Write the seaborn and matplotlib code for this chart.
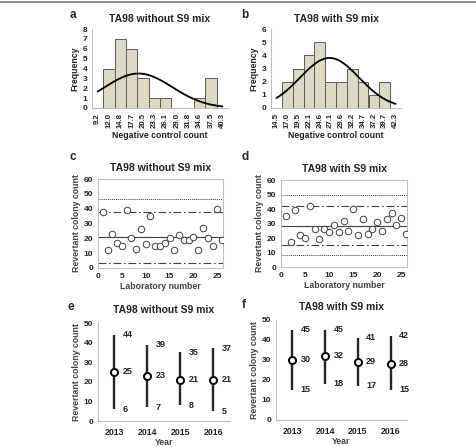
import numpy as np
import matplotlib
matplotlib.use("Agg")
import matplotlib.pyplot as plt
import seaborn as sns

# histogram bins (Excel-style labels) and counts
a_bins = ["9.2", "12.0", "14.8", "17.7", "20.5", "23.3", "26.1", "29.0", "31.8", "34.6", "37.5", "40.3"]
a_counts = [0, 4, 7, 6, 3, 1, 1, 0, 0, 1, 3, 0]
b_bins = ["14.5", "17.0", "19.5", "22.1", "24.6", "27.1", "29.6", "32.2", "34.7", "37.2", "39.7", "42.3"]
b_counts = [0, 2, 3, 4, 5, 2, 2, 3, 2, 1, 2, 0]
# fitted normal curves (mean, sd)
a_fit = (19.4, 8.4)
b_fit = (26.9, 6.9)

# laboratory negative control counts
labs = list(range(1, 27))
c_counts = [38, 12, 23, 17, 15, 39, 20, 13, 26, 16, 35, 15, 15, 17, 20, 12, 22, 19, 19, 21, 12, 27, 20, 15, 40, 19]
d_counts = [35, 17, 39, 22, 20, 42, 26, 19, 26, 24, 29, 24, 32, 25, 40, 22, 33, 23, 26, 31, 25, 33, 37, 29, 34, 23]
# reference lines: mean, +-2SD (dash-dot), +-3SD (dotted)
c_mean, c_2sd, c_3sd = 20.7, [37.7, 3.7], [46.2]
d_mean, d_2sd, d_3sd = 28.6, [42.3, 15.2], [49.6, 8.3]

# yearly summaries
years = ["2013", "2014", "2015", "2016"]
e_min = [6, 7, 8, 5]
e_mean = [25, 23, 21, 21]
e_max = [44, 39, 35, 37]
f_min = [15, 18, 17, 15]
f_mean = [30, 32, 29, 28]
f_max = [45, 45, 41, 42]

sns.set_style("white")
plt.rcParams['font.family'] = ['Liberation Sans', 'DejaVu Sans']
plt.rcParams['font.weight'] = 'bold'

W, H = 477, 447
fig = plt.figure(figsize=(W / 100, H / 100), dpi=100)
fig.add_artist(plt.Line2D([0, 1], [0.995, 0.995], color="#777777", lw=1.2))

GRAY = "#bfbfbf"
TXT = "#222222"
LAB = "#404040"


def box(l, r, t, b):
    return fig.add_axes([l / W, 1 - b / H, (r - l) / W, (b - t) / H])


def style(ax, full=False):
    for s in ["left", "bottom", "top", "right"]:
        ax.spines[s].set_color(GRAY)
        ax.spines[s].set_linewidth(0.8)
        if not full and s in ("top", "right"):
            ax.spines[s].set_visible(False)
    ax.tick_params(axis="both", length=2, width=0.6, color=GRAY, pad=1.5,
                   labelsize=6, labelcolor=TXT)


def hist_panel(ax, bins, counts, fit, ymax, letter, title, lx):
    sns.barplot(x=bins, y=counts, ax=ax, width=1.0, color="#ddd9c3",
                edgecolor="#595959", linewidth=0.7, saturation=1)
    lo = float(bins[0])
    bw = (float(bins[-1]) - lo) / (len(bins) - 1)
    t = np.linspace(0, len(bins) - 1, 200)
    v = lo + bw * t
    mu, sd = fit
    y = sum(counts) * bw * np.exp(-0.5 * ((v - mu) / sd) ** 2) / (sd * np.sqrt(2 * np.pi))
    sns.lineplot(x=t, y=y, ax=ax, color="black", lw=1.3)
    ax.set_xlim(-0.5, len(bins) - 0.5)
    ax.set_ylim(0, ymax)
    ax.set_yticks(range(0, ymax + 1))
    style(ax)
    ax.tick_params(axis="x", rotation=90, labelsize=5.6)
    ax.set_xlabel("Negative control count", fontsize=6.3, fontweight="bold", color=TXT, labelpad=2)
    ax.set_ylabel("Frequency", fontsize=6.3, fontweight="bold", color=TXT, labelpad=2)
    ax.set_title(title, fontsize=7.5, fontweight="bold", color=TXT, pad=5)
    fig.text(lx / W, 1 - 15 / H, letter, fontsize=8.5, fontweight="bold", va="center")


def lab_panel(ax, counts, mean, sd2, sd3, letter, title, lx):
    ax.axhline(mean, color="#404040", lw=0.8)
    for v in sd2:
        ax.axhline(v, color="#404040", lw=0.8, ls=(0, (7, 2.5, 1.5, 2.5)))
    for v in sd3:
        ax.axhline(v, color="#404040", lw=0.7, ls=(0, (1, 1)))
    sns.scatterplot(x=labs, y=counts, ax=ax, s=22, facecolor="white",
                    edgecolor="#404040", linewidth=0.7, zorder=3)
    ax.set_xlim(0, 26.2)
    ax.set_ylim(0, 60)
    ax.set_xticks([0, 5, 10, 15, 20, 25])
    ax.set_yticks(range(0, 61, 10))
    style(ax, full=True)
    ax.set_xlabel("Laboratory number", fontsize=6.3, fontweight="bold", color=LAB, labelpad=1.5)
    ax.set_ylabel("Revertant colony count", fontsize=6.3, fontweight="bold", color=LAB, labelpad=2)
    ax.set_title(title, fontsize=7.5, fontweight="bold", color=TXT, pad=6)
    fig.text(lx / W, 1 - 157 / H, letter, fontsize=8.5, fontweight="bold", va="center")


def year_panel(ax, mins, means, maxs, letter, title, lx, ly):
    x = np.arange(len(years))
    ax.vlines(x, mins, maxs, color="#262626", lw=1.7)
    sns.scatterplot(x=x, y=means, ax=ax, s=26, facecolor="white",
                    edgecolor="black", linewidth=1.4, zorder=3)
    for i in x:
        for val in (maxs[i], means[i], mins[i]):
            ax.annotate(str(val), (i, val), xytext=(6, 0), textcoords="offset points",
                        fontsize=6.5, fontweight="bold", color=TXT, va="center")
    ax.set_xlim(-0.5, 3.5)
    ax.set_ylim(0, 50)
    ax.set_xticks(x)
    ax.set_xticklabels(years)
    ax.set_yticks(range(0, 51, 10))
    style(ax)
    ax.tick_params(axis="x", length=0, labelsize=6.3, pad=5)
    ax.set_xlabel("Year", fontsize=6.3, fontweight="bold", color=LAB, labelpad=1)
    ax.set_ylabel("Revertant colony count", fontsize=6.3, fontweight="bold", color=LAB, labelpad=2)
    ax.set_title(title, fontsize=7.5, fontweight="bold", color=TXT, pad=7)
    fig.text(lx / W, 1 - ly / H, letter, fontsize=8.5, fontweight="bold", va="center")


ax_a = box(92, 228, 29, 108)
hist_panel(ax_a, a_bins, a_counts, a_fit, 8, "a", "TA98 without S9 mix", 70)
ax_b = box(271, 401, 29, 108)
hist_panel(ax_b, b_bins, b_counts, b_fit, 6, "b", "TA98 with S9 mix", 241)

ax_c = box(98, 223, 179, 268)
lab_panel(ax_c, c_counts, c_mean, c_2sd, c_3sd, "c", "TA98 without S9 mix", 70)
ax_d = box(281, 407, 180, 267)
lab_panel(ax_d, d_counts, d_mean, d_2sd, d_3sd, "d", "TA98 with S9 mix", 242)

ax_e = box(98, 230, 323, 421)
year_panel(ax_e, e_min, e_mean, e_max, "e", "TA98 without S9 mix", 68, 307)
ax_f = box(276, 407, 320, 420)
year_panel(ax_f, f_min, f_mean, f_max, "f", "TA98 with S9 mix", 242, 305)

fig.savefig("out.png", dpi=100)
